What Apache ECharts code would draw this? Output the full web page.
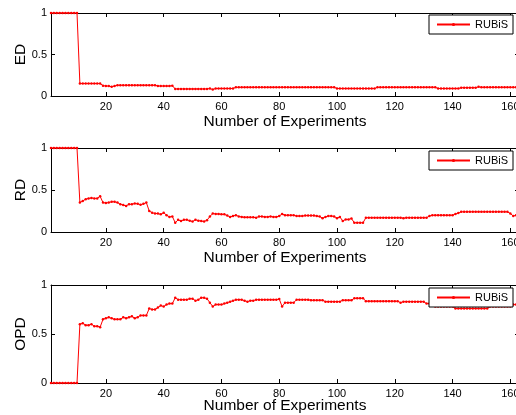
<!DOCTYPE html>
<html><head><meta charset="utf-8">
<script src="https://cdn.jsdelivr.net/npm/echarts@6/dist/echarts.min.js"></script>
<style>html,body{margin:0;padding:0;background:#fff}#c{width:516px;height:415px}</style>
</head><body><div id="c"></div><script>
// Values, experiments 1..163
const ED = [
1,1,1,1,1,1,1,1,1,1,
0.15,0.15,0.15,0.15,0.15,0.15,0.15,0.15,0.125,0.12,
0.12,0.11,0.12,0.13,0.13,0.13,0.13,0.13,0.13,0.13,
0.13,0.13,0.13,0.13,0.13,0.13,0.13,0.12,0.12,0.12,
0.12,0.12,0.125,0.085,0.085,0.085,0.085,0.085,0.085,0.085,
0.085,0.085,0.085,0.085,0.085,0.09,0.078,0.09,0.09,0.09,
0.09,0.09,0.09,0.09,0.105,0.105,0.105,0.105,0.105,0.105,
0.105,0.105,0.105,0.105,0.105,0.105,0.105,0.105,0.105,0.105,
0.105,0.105,0.105,0.105,0.105,0.105,0.105,0.105,0.105,0.105,
0.105,0.105,0.105,0.105,0.105,0.105,0.105,0.105,0.105,0.09,
0.09,0.09,0.09,0.09,0.09,0.09,0.09,0.09,0.09,0.09,
0.09,0.09,0.09,0.105,0.105,0.105,0.105,0.105,0.105,0.105,
0.105,0.105,0.105,0.105,0.105,0.105,0.105,0.105,0.105,0.105,
0.105,0.105,0.105,0.105,0.09,0.09,0.09,0.09,0.09,0.09,
0.09,0.09,0.1,0.1,0.1,0.1,0.1,0.1,0.11,0.105,
0.105,0.105,0.105,0.105,0.105,0.105,0.105,0.105,0.105,0.105,
0.105,0.105,0.105
];
const RD = [
1,1,1,1,1,1,1,1,1,1,
0.35,0.37,0.39,0.40,0.405,0.40,0.40,0.425,0.35,0.345,
0.35,0.36,0.36,0.35,0.33,0.32,0.31,0.33,0.33,0.34,
0.335,0.325,0.335,0.35,0.25,0.23,0.22,0.22,0.21,0.23,
0.20,0.18,0.185,0.11,0.145,0.13,0.145,0.145,0.135,0.125,
0.145,0.135,0.13,0.125,0.14,0.185,0.22,0.215,0.215,0.21,
0.21,0.195,0.18,0.19,0.20,0.185,0.18,0.175,0.175,0.175,
0.175,0.17,0.185,0.185,0.18,0.18,0.185,0.18,0.18,0.19,
0.215,0.20,0.20,0.20,0.20,0.19,0.19,0.19,0.195,0.195,
0.195,0.195,0.19,0.185,0.165,0.18,0.19,0.19,0.185,0.165,
0.18,0.13,0.15,0.15,0.16,0.11,0.11,0.11,0.11,0.17,
0.17,0.17,0.17,0.17,0.17,0.17,0.17,0.17,0.17,0.17,
0.17,0.17,0.165,0.17,0.17,0.17,0.17,0.17,0.17,0.17,
0.17,0.19,0.20,0.20,0.20,0.20,0.20,0.20,0.20,0.20,
0.215,0.225,0.24,0.24,0.24,0.24,0.24,0.24,0.24,0.24,
0.24,0.24,0.24,0.24,0.24,0.24,0.24,0.24,0.24,0.22,
0.19,0.20,0.20
];
const OPD = [
0,0,0,0,0,0,0,0,0,0,
0.60,0.61,0.59,0.59,0.60,0.58,0.58,0.57,0.65,0.66,
0.67,0.66,0.65,0.65,0.65,0.67,0.66,0.67,0.68,0.66,
0.67,0.69,0.69,0.69,0.76,0.75,0.75,0.77,0.79,0.78,
0.80,0.81,0.81,0.87,0.85,0.85,0.85,0.85,0.86,0.86,
0.84,0.85,0.87,0.87,0.86,0.82,0.78,0.80,0.80,0.80,
0.81,0.82,0.83,0.84,0.85,0.85,0.85,0.84,0.83,0.84,
0.84,0.85,0.85,0.85,0.85,0.85,0.85,0.85,0.85,0.857,
0.78,0.82,0.82,0.82,0.82,0.85,0.85,0.85,0.85,0.85,
0.845,0.845,0.845,0.845,0.845,0.83,0.83,0.83,0.83,0.83,
0.83,0.845,0.845,0.845,0.845,0.865,0.865,0.865,0.865,0.835,
0.835,0.835,0.835,0.835,0.835,0.835,0.835,0.835,0.835,0.835,
0.835,0.82,0.83,0.83,0.83,0.83,0.83,0.83,0.83,0.83,
0.81,0.81,0.80,0.78,0.78,0.78,0.78,0.78,0.78,0.78,
0.76,0.76,0.76,0.76,0.76,0.76,0.76,0.76,0.76,0.76,
0.76,0.76,0.78,0.78,0.78,0.78,0.78,0.78,0.78,0.78,
0.80,0.80,0.80
];
const xTicks = [20,40,60,80,100,120,140,160];
const yNames = ['ED','RD','OPD'];
const seriesName = 'RUBiS';
const xLabel = 'Number of Experiments';

const panels = [ED, RD, OPD];
const layout = [
  {top:13, height:83, legendTop:15, nameGap:17.5},
  {top:148, height:84, legendTop:151, nameGap:17.5},
  {top:285, height:98, legendTop:288, nameGap:15}
];
const font = '"Liberation Sans", Arial, Helvetica, sans-serif';
const option = {animation:false, backgroundColor:'#fff', textStyle:{fontFamily:font},
  grid:[], xAxis:[], yAxis:[], series:[], legend:[]};
const axisLine = {show:true, onZero:false, lineStyle:{color:'#000', width:1}};
panels.forEach((vals, i) => {
  const L = layout[i];
  option.grid.push({left:51, top:L.top, width:468, height:L.height, show:false,
    containLabel:false, outerBoundsMode:'none'});
  const xt = {show:true, inside:true, length:4, lineStyle:{color:'#000'}, customValues:xTicks};
  const yt = {show:true, inside:true, length:4, lineStyle:{color:'#000'}};
  option.xAxis.push({type:'value', gridIndex:i, min:1, max:163, position:'bottom',
    axisLine, axisTick:xt,
    axisLabel:{show:true, customValues:xTicks, color:'#000', fontSize:11, margin:5, fontFamily:font},
    splitLine:{show:false}, name:xLabel, nameLocation:'middle', nameGap:L.nameGap, nameMoveOverlap:false,
    nameTextStyle:{fontSize:15.5, color:'#000', fontFamily:font}});
  option.xAxis.push({type:'value', gridIndex:i, min:1, max:163, position:'top',
    axisLine, axisTick:xt, axisLabel:{show:false}, splitLine:{show:false}});
  option.yAxis.push({type:'value', gridIndex:i, min:0, max:1, interval:0.5, position:'left',
    axisLine, axisTick:yt,
    axisLabel:{color:'#000', fontSize:11, margin:4, fontFamily:font},
    splitLine:{show:false}, name:yNames[i], nameLocation:'middle', nameGap:22, nameMoveOverlap:false,
    nameTextStyle:{fontSize:15.5, color:'#000', fontFamily:font}});
  option.yAxis.push({type:'value', gridIndex:i, min:0, max:1, interval:0.5, position:'right',
    axisLine, axisTick:yt, axisLabel:{show:false}, splitLine:{show:false}});
  option.series.push({type:'line', name:seriesName, xAxisIndex:2*i, yAxisIndex:2*i,
    data: vals.map((v,k) => [k+1, v]),
    symbol:'circle', symbolSize:2.5, showSymbol:true, clip:false,
    lineStyle:{color:'#ff0000', width:1}, itemStyle:{color:'#ff0000'}});
  option.legend.push({show:true, left:429, top:L.legendTop, padding:[4,5,4,7],
    itemWidth:33, itemHeight:4, itemGap:5, selectedMode:false,
    borderColor:'#000', borderWidth:1, backgroundColor:'#fff', borderRadius:0,
    textStyle:{fontSize:11, color:'#000', fontFamily:font}, data:[seriesName]});
});
const chart = echarts.init(document.getElementById('c'), null, {renderer:'canvas'});
chart.setOption(option);
</script></body></html>
